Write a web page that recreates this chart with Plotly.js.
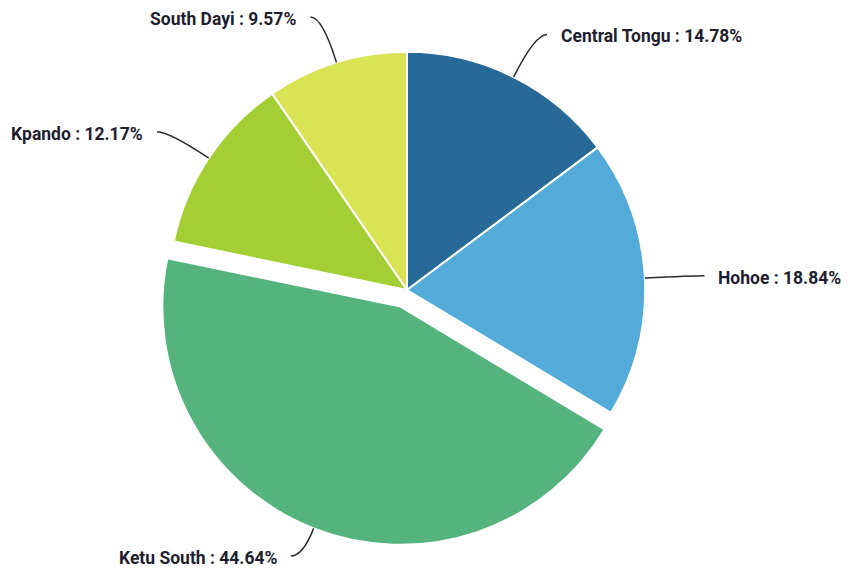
<!DOCTYPE html>
<html>
<head>
<meta charset="utf-8">
<script src="https://cdn.plot.ly/plotly-3.0.1.min.js"></script>
<style>html,body{margin:0;padding:0;background:#fff;}#chart{width:851px;height:582px;}</style>
</head>
<body>
<div id="chart"></div>
<script>
const labels = ["Central Tongu", "Hohoe", "Ketu South", "Kpando", "South Dayi"];
const values = [14.78, 18.84, 44.64, 12.17, 9.57];
const colors = ["#276a98", "#52abd9", "#55b37d", "#a3cf35", "#d9e354"];
const pulls = [0, 0, 0.075, 0, 0];

const FW = 851, FH = 582;
const M = {l: 0, r: 37, t: 34, b: 36};
const W = FW - M.l - M.r, H = FH - M.t - M.b;
const maxPull = Math.max(...pulls);
const R = Math.min(W, H) / 2 / (1 + maxPull);
const cx = M.l + W / 2, cy = M.t + H / 2;
const px = x => (x - M.l) / W;
const py = y => 1 - (y - M.t) / H;

const total = values.reduce((a, b) => a + b, 0);
const shapes = [], annotations = [];
let acc = 0;
values.forEach((v, i) => {
  const mid = (acc + v / 2) / total * 2 * Math.PI;
  acc += v;
  const sx = Math.sin(mid), sy = -Math.cos(mid);
  const ox = cx + R * pulls[i] * sx, oy = cy + R * pulls[i] * sy;
  const p0 = [ox + R * 1.0 * sx, oy + R * 1.0 * sy];
  const p1 = [cx + R * 1.2 * sx, cy + R * 1.2 * sy];
  const dir = sx >= 0 ? 1 : -1;
  const p2 = [p1[0] + dir * 12, p1[1]];
  shapes.push({
    type: 'path', xref: 'paper', yref: 'paper',
    path: `M ${px(p0[0])} ${py(p0[1])} Q ${px(p1[0])} ${py(p1[1])} ${px(p2[0])} ${py(p2[1])}`,
    line: {color: '#2b2b2b', width: 1.5}
  });
  annotations.push({
    xref: 'paper', yref: 'paper',
    x: px(p2[0] + dir * 12), y: py(p2[1] + 2),
    xanchor: dir > 0 ? 'left' : 'right', yanchor: 'middle',
    text: `${labels[i]} : ${v.toFixed(2)}%`,
    showarrow: false,
    font: {family: 'Roboto, sans-serif', size: 17.5, color: '#1e1e2e', weight: 'bold'}
  });
});

const data = [{
  type: 'pie',
  labels: labels,
  values: values,
  pull: pulls,
  sort: false,
  direction: 'clockwise',
  rotation: 0,
  textinfo: 'none',
  hoverinfo: 'label+percent',
  marker: {colors: colors, line: {color: '#ffffff', width: 2}},
  showlegend: false
}];

const layout = {
  width: FW, height: FH,
  margin: M,
  paper_bgcolor: '#ffffff',
  plot_bgcolor: '#ffffff',
  showlegend: false,
  shapes: shapes,
  annotations: annotations
};

Plotly.newPlot('chart', data, layout, {displayModeBar: false, staticPlot: true});
</script>
</body>
</html>
